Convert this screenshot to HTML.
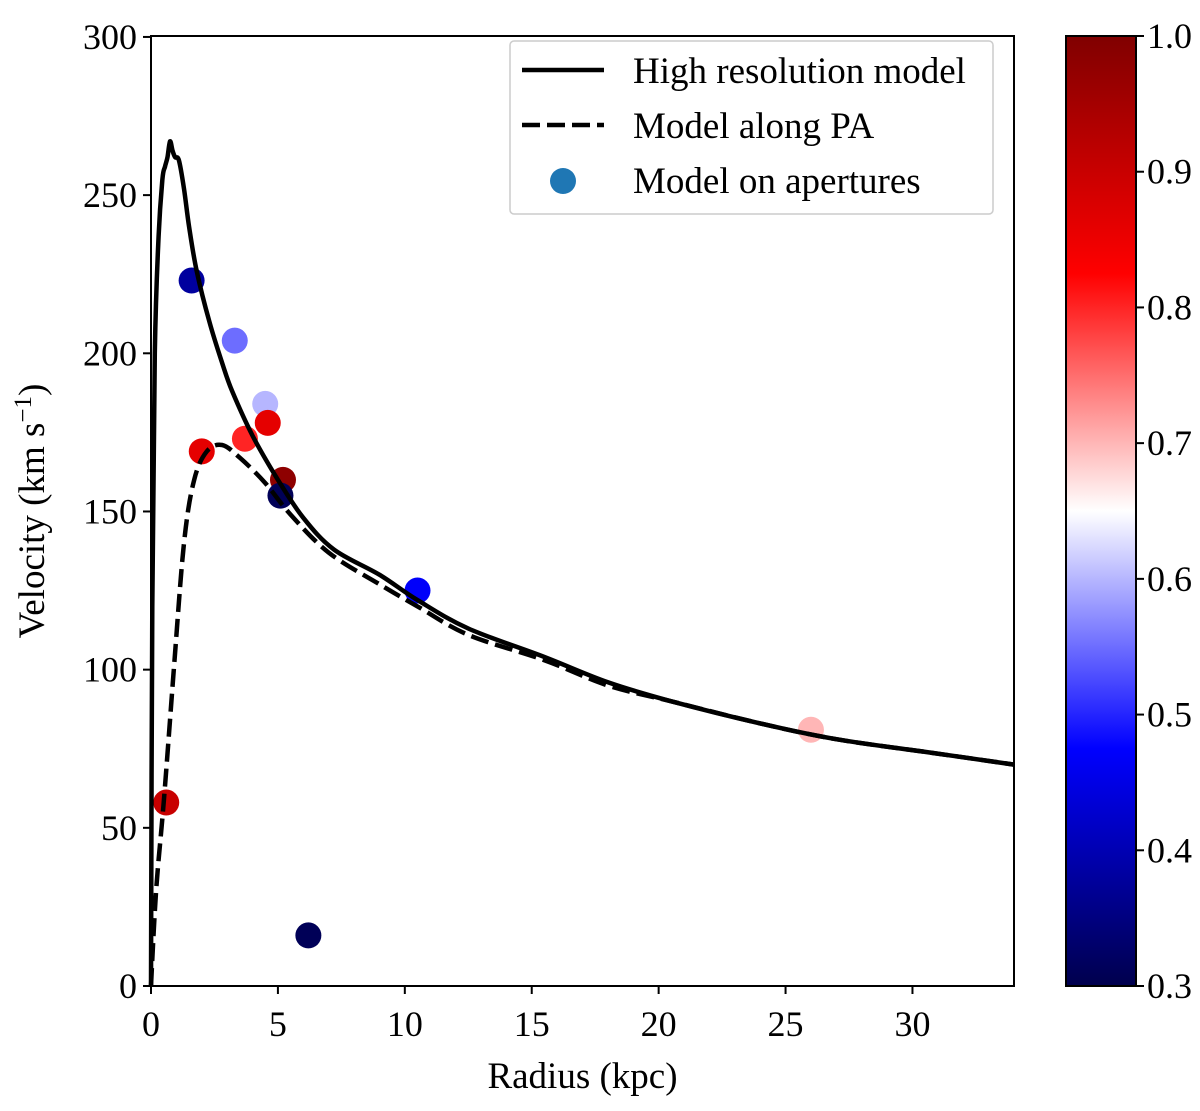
<!DOCTYPE html>
<html><head><meta charset="utf-8"><style>
body{margin:0;background:#fff}
svg text{font-family:"Liberation Serif",serif;fill:#000}
</style></head><body>
<svg id="chart" width="1200" height="1106" viewBox="0 0 1200 1106" xmlns="http://www.w3.org/2000/svg">
<defs>
<linearGradient id="cbg" x1="0" y1="1" x2="0" y2="0"></linearGradient>
</defs>
<g id="points"></g>
<g id="lines"></g>
<g id="axes"></g>
<g id="legend"></g>
<g id="cbar"></g>
</svg>
<script>
const solidR=[0,0.05,0.15,0.3,0.45,0.55,0.65,0.75,0.85,0.95,1.1,1.3,1.5,1.8,2.3,2.8,3.2,4,5,6,7.2,9,10.5,12.5,15.5,18,20.5,24,27,30.5,34];
const solidV=[0,120,200,237,255,259,262,267,264,262,261,252,240,226,210,197,188,174,160,148,138,130,122,113,104,96,90,83,78,74,70];
const dashR=[0,0.2,0.5,0.9,1.3,1.7,2.2,2.8,3.5,4.5,5.5,7,9,10.5,12.5,15.5,18,20.5,24,27,30.5,34];
const dashV=[0,30,58,100,140,160,169,171,167,159,149,137,127,120,111,103,95,90,83,78,74,70];
const ptR=[0.6,1.6,3.3,4.5,2.0,3.7,4.6,5.2,5.1,10.5,26.0,6.2];
const ptV=[58,223,204,184,169,173,178,160,155,125,81,16];
const ptC=[0.9,0.38,0.55,0.6,0.86,0.8,0.86,0.98,0.31,0.47,0.7,0.31];
const xTicks=[0,5,10,15,20,25,30];
const yTicks=[0,50,100,150,200,250,300];
const cTicks=[0.3,0.4,0.5,0.6,0.7,0.8,0.9,1.0];
const L=151,R=1014,T=36,B=986,XMAX=34,YMAX=300.3;
const X=r=>L+r/XMAX*(R-L), Y=v=>B-v/YMAX*(B-T);
const NS='http://www.w3.org/2000/svg';
function mk(tag,attrs,parent){const e=document.createElementNS(NS,tag);for(const k in attrs)e.setAttribute(k,attrs[k]);parent.appendChild(e);return e;}
function seismic(t){
  const s=[[0,0,0,0.3],[0.25,0,0,1],[0.5,1,1,1],[0.75,1,0,0],[1,0.5,0,0]];
  for(let i=0;i<4;i++){if(t<=s[i+1][0]){const f=(t-s[i][0])/(s[i+1][0]-s[i][0]);
    const c=[1,2,3].map(j=>Math.round(255*(s[i][j]+f*(s[i+1][j]-s[i][j]))));return `rgb(${c})`;}}
  return 'rgb(128,0,0)';}
const cnorm=c=>(c-0.3)/0.7;
const gp=document.getElementById('points');
ptR.forEach((r,i)=>{const c=mk('circle',{cx:X(r),cy:Y(ptV[i]),r:13,fill:seismic(cnorm(ptC[i]))},gp);

});
const gl=document.getElementById('lines');
function smooth(a,b){const p=a.map((r,i)=>[X(r),Y(b[i])]);let d='M'+p[0][0].toFixed(1)+','+p[0][1].toFixed(1);
for(let i=0;i<p.length-1;i++){const p0=p[Math.max(0,i-1)],p1=p[i],p2=p[i+1],p3=p[Math.min(p.length-1,i+2)];
const c1=[p1[0]+(p2[0]-p0[0])/6,p1[1]+(p2[1]-p0[1])/6],c2=[p2[0]-(p3[0]-p1[0])/6,p2[1]-(p3[1]-p1[1])/6];
d+=` C${c1[0].toFixed(1)},${c1[1].toFixed(1)} ${c2[0].toFixed(1)},${c2[1].toFixed(1)} ${p2[0].toFixed(1)},${p2[1].toFixed(1)}`;}
return d;}
const l1=mk('path',{d:smooth(solidR,solidV),fill:'none',stroke:'#000','stroke-width':4.5,'stroke-linejoin':'round'},gl);


const l2=mk('path',{d:smooth(dashR,dashV),fill:'none',stroke:'#000','stroke-width':4.5,'stroke-dasharray':'18,7'},gl);


const ga=document.getElementById('axes');
mk('rect',{x:L,y:T,width:R-L,height:B-T,fill:'none',stroke:'#000','stroke-width':2},ga);
xTicks.forEach(t=>{mk('line',{x1:X(t),x2:X(t),y1:B,y2:B+8,stroke:'#000','stroke-width':2},ga);
const tx=mk('text',{x:X(t),y:B+50,'font-size':36,'text-anchor':'middle'},ga);tx.textContent=t;

});
yTicks.forEach(t=>{mk('line',{x1:L-8,x2:L,y1:Y(t),y2:Y(t),stroke:'#000','stroke-width':2},ga);
const tx=mk('text',{x:L-14,y:Y(t)+12,'font-size':36,'text-anchor':'end'},ga);tx.textContent=t;

});
const xt=mk('text',{x:(L+R)/2-0,y:1088,'font-size':37,'text-anchor':'middle'},ga);xt.textContent='Radius (kpc)';


const yt=mk('text',{x:0,y:0,'font-size':37,'text-anchor':'middle',transform:`translate(44,${(T+B)/2}) rotate(-90)`},ga);
yt.innerHTML='Velocity (km s<tspan baseline-shift="super" font-size="25">−1</tspan>)';


const lg=document.getElementById('legend');
mk('rect',{x:510,y:41,width:483,height:173,rx:4,fill:'#fff',stroke:'#ccc','stroke-width':1.5},lg);
mk('line',{x1:522,x2:604,y1:70,y2:70,stroke:'#000','stroke-width':4.5},lg);
mk('line',{x1:522,x2:604,y1:125,y2:125,stroke:'#000','stroke-width':4.5,'stroke-dasharray':'18,7'},lg);
mk('circle',{cx:563,cy:181,r:13,fill:'#1f77b4'},lg);
[['High resolution model',83],['Model along PA',138],['Model on apertures',193]].forEach(([s,y])=>{
const t=mk('text',{x:633,y:y,'font-size':37},lg);t.textContent=s;

});
const gc=document.getElementById('cbar');
const g=document.getElementById('cbg');
for(let i=0;i<=20;i++){mk('stop',{offset:i/20,'stop-color':seismic(i/20)},g);}
mk('rect',{x:1066,y:T,width:70,height:B-T,fill:'url(#cbg)',stroke:'#000','stroke-width':2},gc);
cTicks.forEach(c=>{const y=B-cnorm(c)*(B-T);
mk('line',{x1:1136,x2:1144,y1:y,y2:y,stroke:'#000','stroke-width':2},gc);
const t=mk('text',{x:1147,y:y+12,'font-size':36},gc);t.textContent=c.toFixed(1);

});
</script>
</body></html>
